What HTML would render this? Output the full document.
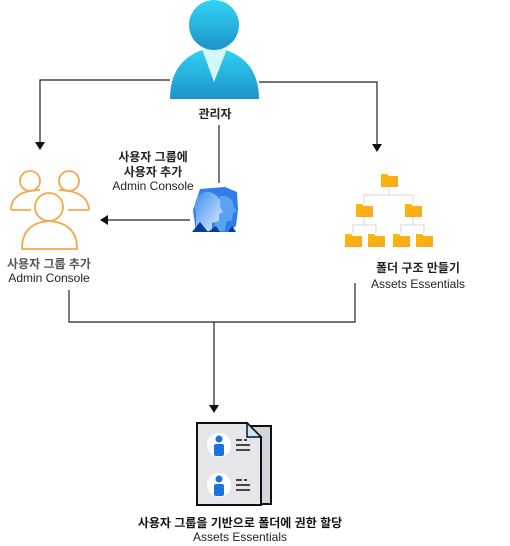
<!DOCTYPE html>
<html><head><meta charset="utf-8"><style>
body{margin:0;background:#fff;}
svg{display:block;}
text{font-family:"Liberation Sans","Noto Sans CJK KR",sans-serif;}
</style></head><body>
<svg width="510" height="546" viewBox="0 0 510 546" xmlns="http://www.w3.org/2000/svg">
<defs>
<linearGradient id="pg" x1="0" y1="0" x2="0" y2="1"><stop offset="0" stop-color="#32d4f5"/><stop offset="1" stop-color="#1b93c9"/></linearGradient>
<linearGradient id="fg" x1="0" y1="0" x2="1" y2="1"><stop offset="0" stop-color="#ffb900"/><stop offset="1" stop-color="#f7a52a"/></linearGradient>
<linearGradient id="ag" x1="0" y1="0" x2="1" y2="1"><stop offset="0" stop-color="#3c8ef0"/><stop offset="1" stop-color="#e3efff"/></linearGradient>
</defs>
<g stroke="#222" stroke-width="1.2" fill="none">
<polyline points="170,80 40,80 40,143"/>
<polyline points="259,82 377,82 377,145"/>
<line x1="219" y1="125" x2="219" y2="183"/>
<line x1="190" y1="220" x2="104" y2="220"/>
<polyline points="69,290 69,322 355,322 355,283"/>
<line x1="214" y1="322" x2="214" y2="406"/>
</g>
<g fill="#111">
<polygon points="35,142 45,142 40,150"/>
<polygon points="372,144 382,144 377,152"/>
<polygon points="100,220 108,215 108,225"/>
<polygon points="209,405 219,405 214,413"/>
</g>
<path d="M170,99 Q170,55 214,47 Q259,55 259,99 Z" fill="url(#pg)"/>
<path d="M202,49 L214,82 L227,49 Z" fill="#d4f6fd"/>
<circle cx="214" cy="25" r="25" fill="url(#pg)"/>
<text x="215" y="118" font-size="12" font-weight="bold" text-anchor="middle" fill="#222">관리자</text>
<text x="153" y="161" font-size="12" font-weight="bold" text-anchor="middle" fill="#222">사용자 그룹에</text>
<text x="153" y="176" font-size="12" font-weight="bold" text-anchor="middle" fill="#222">사용자 추가</text>
<text x="153" y="190" font-size="12" text-anchor="middle" fill="#222">Admin Console</text>
<!-- azure group icon -->
<path d="M200,189 L225,187 L237,192 L238,210 L236,226 L228,232 L196,232 L193,210 Z" fill="#2f7de8"/>
<path d="M220,196 Q233,195 234,207 L237,211 L233,213 L232,220 L226,222 L225,231 L214,231 L216,212 Z" fill="#5aa2f5"/>
<path d="M198,196 Q206,188 216,195 Q222,200 220,207 L223,212 L219,214 L219,221 L212,223 L212,231 L196,231 L196,214 Q193,204 198,196 Z" fill="url(#ag)"/>
<path d="M192,232 L200,222 L208,232 Z M208,232 L216,226 L220,232 Z M228,232 L232,226 L236,232 Z" fill="#0a3b9a"/>
<g stroke="#f7a74a" stroke-width="1.8" fill="none">
<circle cx="30" cy="181" r="10"/>
<circle cx="69" cy="181" r="10"/>
<path d="M11,210 Q11,191 40,190"/>
<path d="M59,190 Q88,191 89,210"/>
<line x1="11" y1="210" x2="31" y2="210"/>
<line x1="68" y1="210" x2="89" y2="210"/>
<circle cx="49" cy="207" r="14"/>
<path d="M22,249 Q22,223 49,221 Q77,223 77,249 Z"/>
</g>
<text x="49" y="268" font-size="12" font-weight="bold" text-anchor="middle" fill="#555">사용자 그룹 추가</text>
<text x="49" y="282" font-size="12" text-anchor="middle" fill="#222">Admin Console</text>
<g stroke="#ddd" stroke-width="1.2" fill="none">
<polyline points="389,186 389,195 364,195 364,203"/><polyline points="389,195 413,195 413,203"/>
<polyline points="364,216 364,225 353,225 353,233"/><polyline points="364,225 376,225 376,233"/>
<polyline points="413,216 413,225 401,225 401,233"/><polyline points="413,225 424,225 424,233"/>
</g>
<g fill="url(#fg)">
<path d="M381,174 h6 l2,2 h9 v11 h-17 z"/>
<path d="M356,204 h6 l2,2 h9 v11 h-17 z"/>
<path d="M405,204 h6 l2,2 h9 v11 h-17 z"/>
<path d="M345,234 h6 l2,2 h9 v11 h-17 z"/>
<path d="M368,234 h6 l2,2 h9 v11 h-17 z"/>
<path d="M393,234 h6 l2,2 h9 v11 h-17 z"/>
<path d="M416,234 h6 l2,2 h9 v11 h-17 z"/>
</g>
<text x="418" y="272" font-size="12" font-weight="bold" text-anchor="middle" fill="#222">폴더 구조 만들기</text>
<text x="418" y="288" font-size="12" text-anchor="middle" fill="#222">Assets Essentials</text>
<rect x="247" y="426" width="24" height="78" fill="#d4d4dc" stroke="#111" stroke-width="2"/>
<path d="M197,423 L247,423 L261,437 L261,505 L197,505 Z" fill="#e6e6ea" stroke="#111" stroke-width="2"/>
<path d="M247,423 L247,437 L261,437 Z" fill="#c8e8f8" stroke="#111" stroke-width="1.5"/>
<circle cx="219" cy="445" r="12" fill="#fff"/>
<circle cx="219" cy="439" r="3.5" fill="#1a74e0"/><rect x="214" y="444" width="10" height="12" rx="2" fill="#1a74e0"/>
<circle cx="219" cy="485" r="12" fill="#fff"/>
<circle cx="219" cy="479" r="3.5" fill="#1a74e0"/><rect x="214" y="484" width="10" height="12" rx="2" fill="#1a74e0"/>
<g fill="#444"><rect x="236" y="439" width="6" height="2"/><rect x="244" y="439" width="3" height="2"/><rect x="236" y="444" width="14" height="2"/><rect x="236" y="449" width="14" height="2"/>
<rect x="236" y="479" width="6" height="2"/><rect x="244" y="479" width="3" height="2"/><rect x="236" y="484" width="14" height="2"/><rect x="236" y="489" width="14" height="2"/></g>
<text x="240" y="527" font-size="12" font-weight="bold" text-anchor="middle" fill="#111">사용자 그룹을 기반으로 폴더에 권한 할당</text>
<text x="240" y="541" font-size="12" text-anchor="middle" fill="#222">Assets Essentials</text>
</svg>
</body></html>
